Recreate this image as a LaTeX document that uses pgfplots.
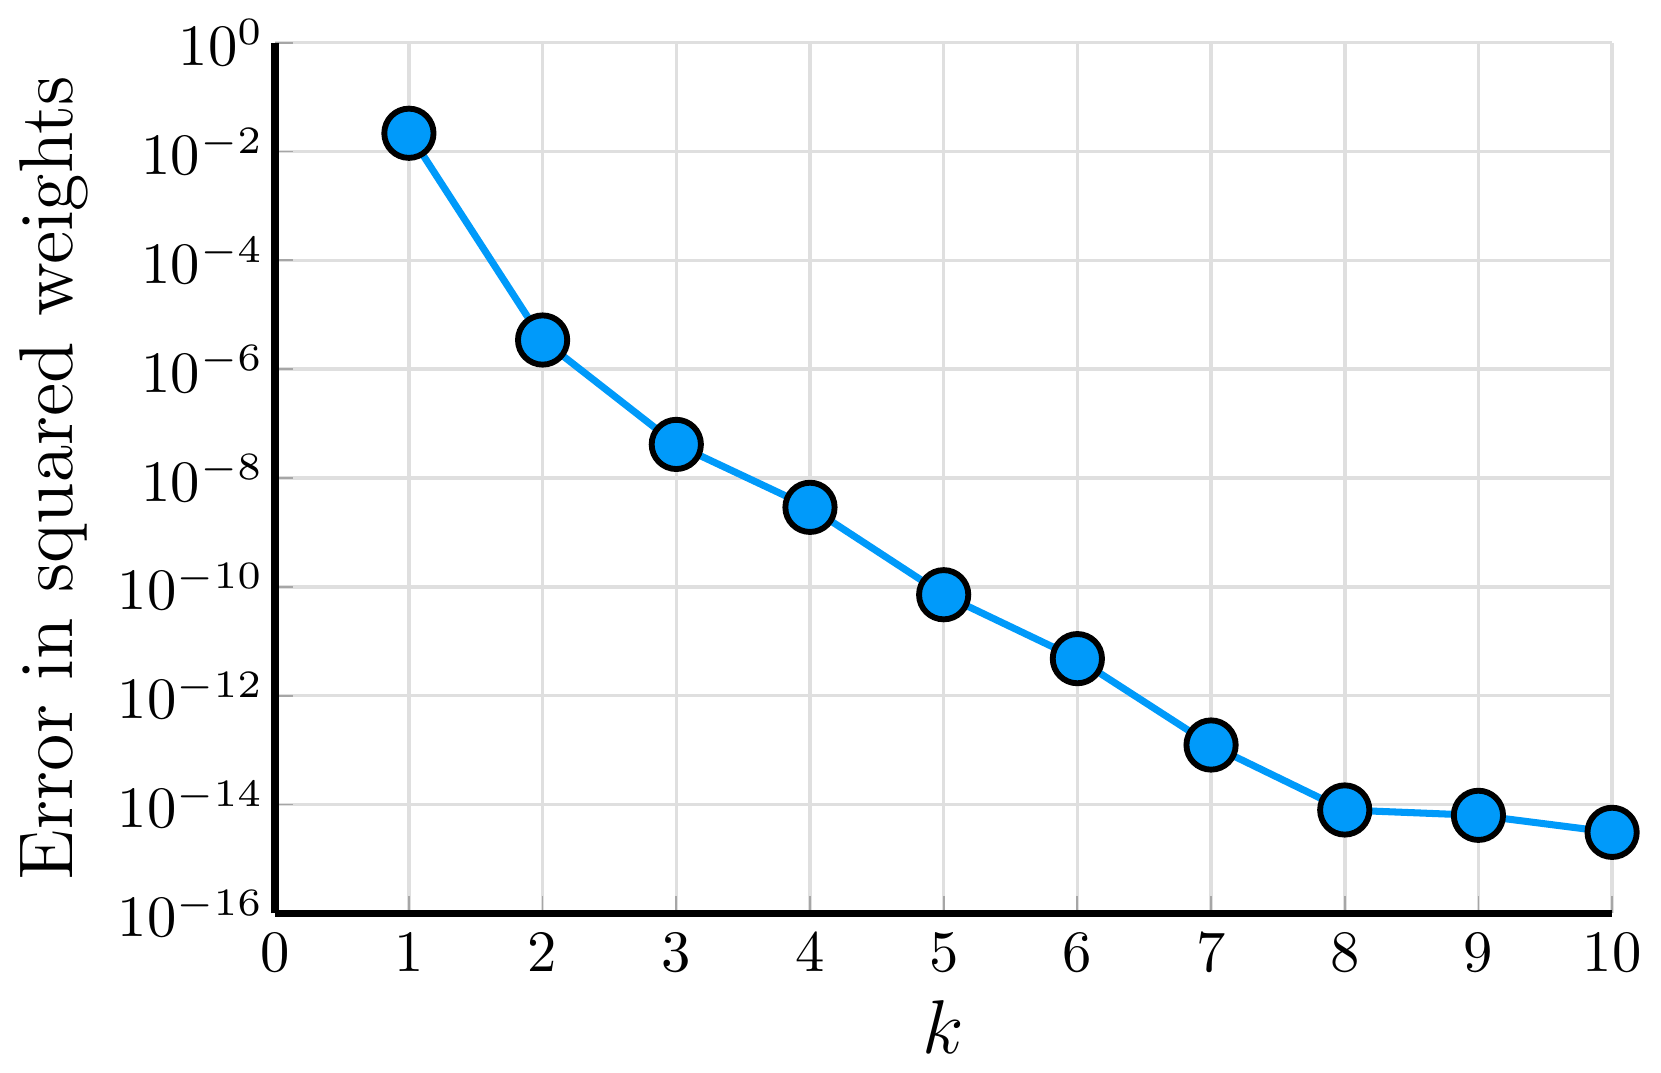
\RequirePackage{fix-cm}
\documentclass[border=0pt]{standalone}
\usepackage{pgfplots}
\pgfplotsset{compat=1.18}
\definecolor{jblue}{RGB}{0,154,250}
\begin{document}
\begin{tikzpicture}
\begin{axis}[
    scale only axis,
    width=228pt,
    height=148.5pt,
    xmin=0, xmax=10,
    ymin=1e-16, ymax=1,
    ymode=log,
    xtick={0,1,...,10},
    ytick={1e-16,1e-14,1e-12,1e-10,1e-8,1e-6,1e-4,1e-2,1},
    minor ytick={},
    log number format basis/.code 2 args={$#1^{\hbox{\fontsize{6.6}{7}\selectfont$\pgfmathprintnumber{#2}$}}$},
    axis lines*=left,
    axis line style={line width=1.3pt, -},
    tick style={gray!70, line width=0.3pt},
    major tick length=3pt,
    tick align=inside,
    grid=major,
    grid style={gray!25, line width=0.6pt},
    tick label style={font=\normalsize},
    yticklabel style={xshift=1.6pt},
    xlabel={$k$},
    ylabel={Error in squared weights},
    ylabel shift=-1.8pt,
    label style={font=\fontsize{13}{16}\selectfont},
    xlabel style={yshift=2pt},
    clip=false,
]
\addplot[color=jblue, line width=1.2pt, mark=*, mark size=4.2pt,
    mark options={fill=jblue, draw=black, line width=1pt}] coordinates {
    (1,2.16e-2) (2,3.43e-6) (3,4.14e-8) (4,2.89e-9) (5,7.16e-11)
    (6,4.79e-12) (7,1.24e-13) (8,7.94e-15) (9,6.33e-15) (10,3.08e-15)
};
\end{axis}
\end{tikzpicture}
\end{document}
